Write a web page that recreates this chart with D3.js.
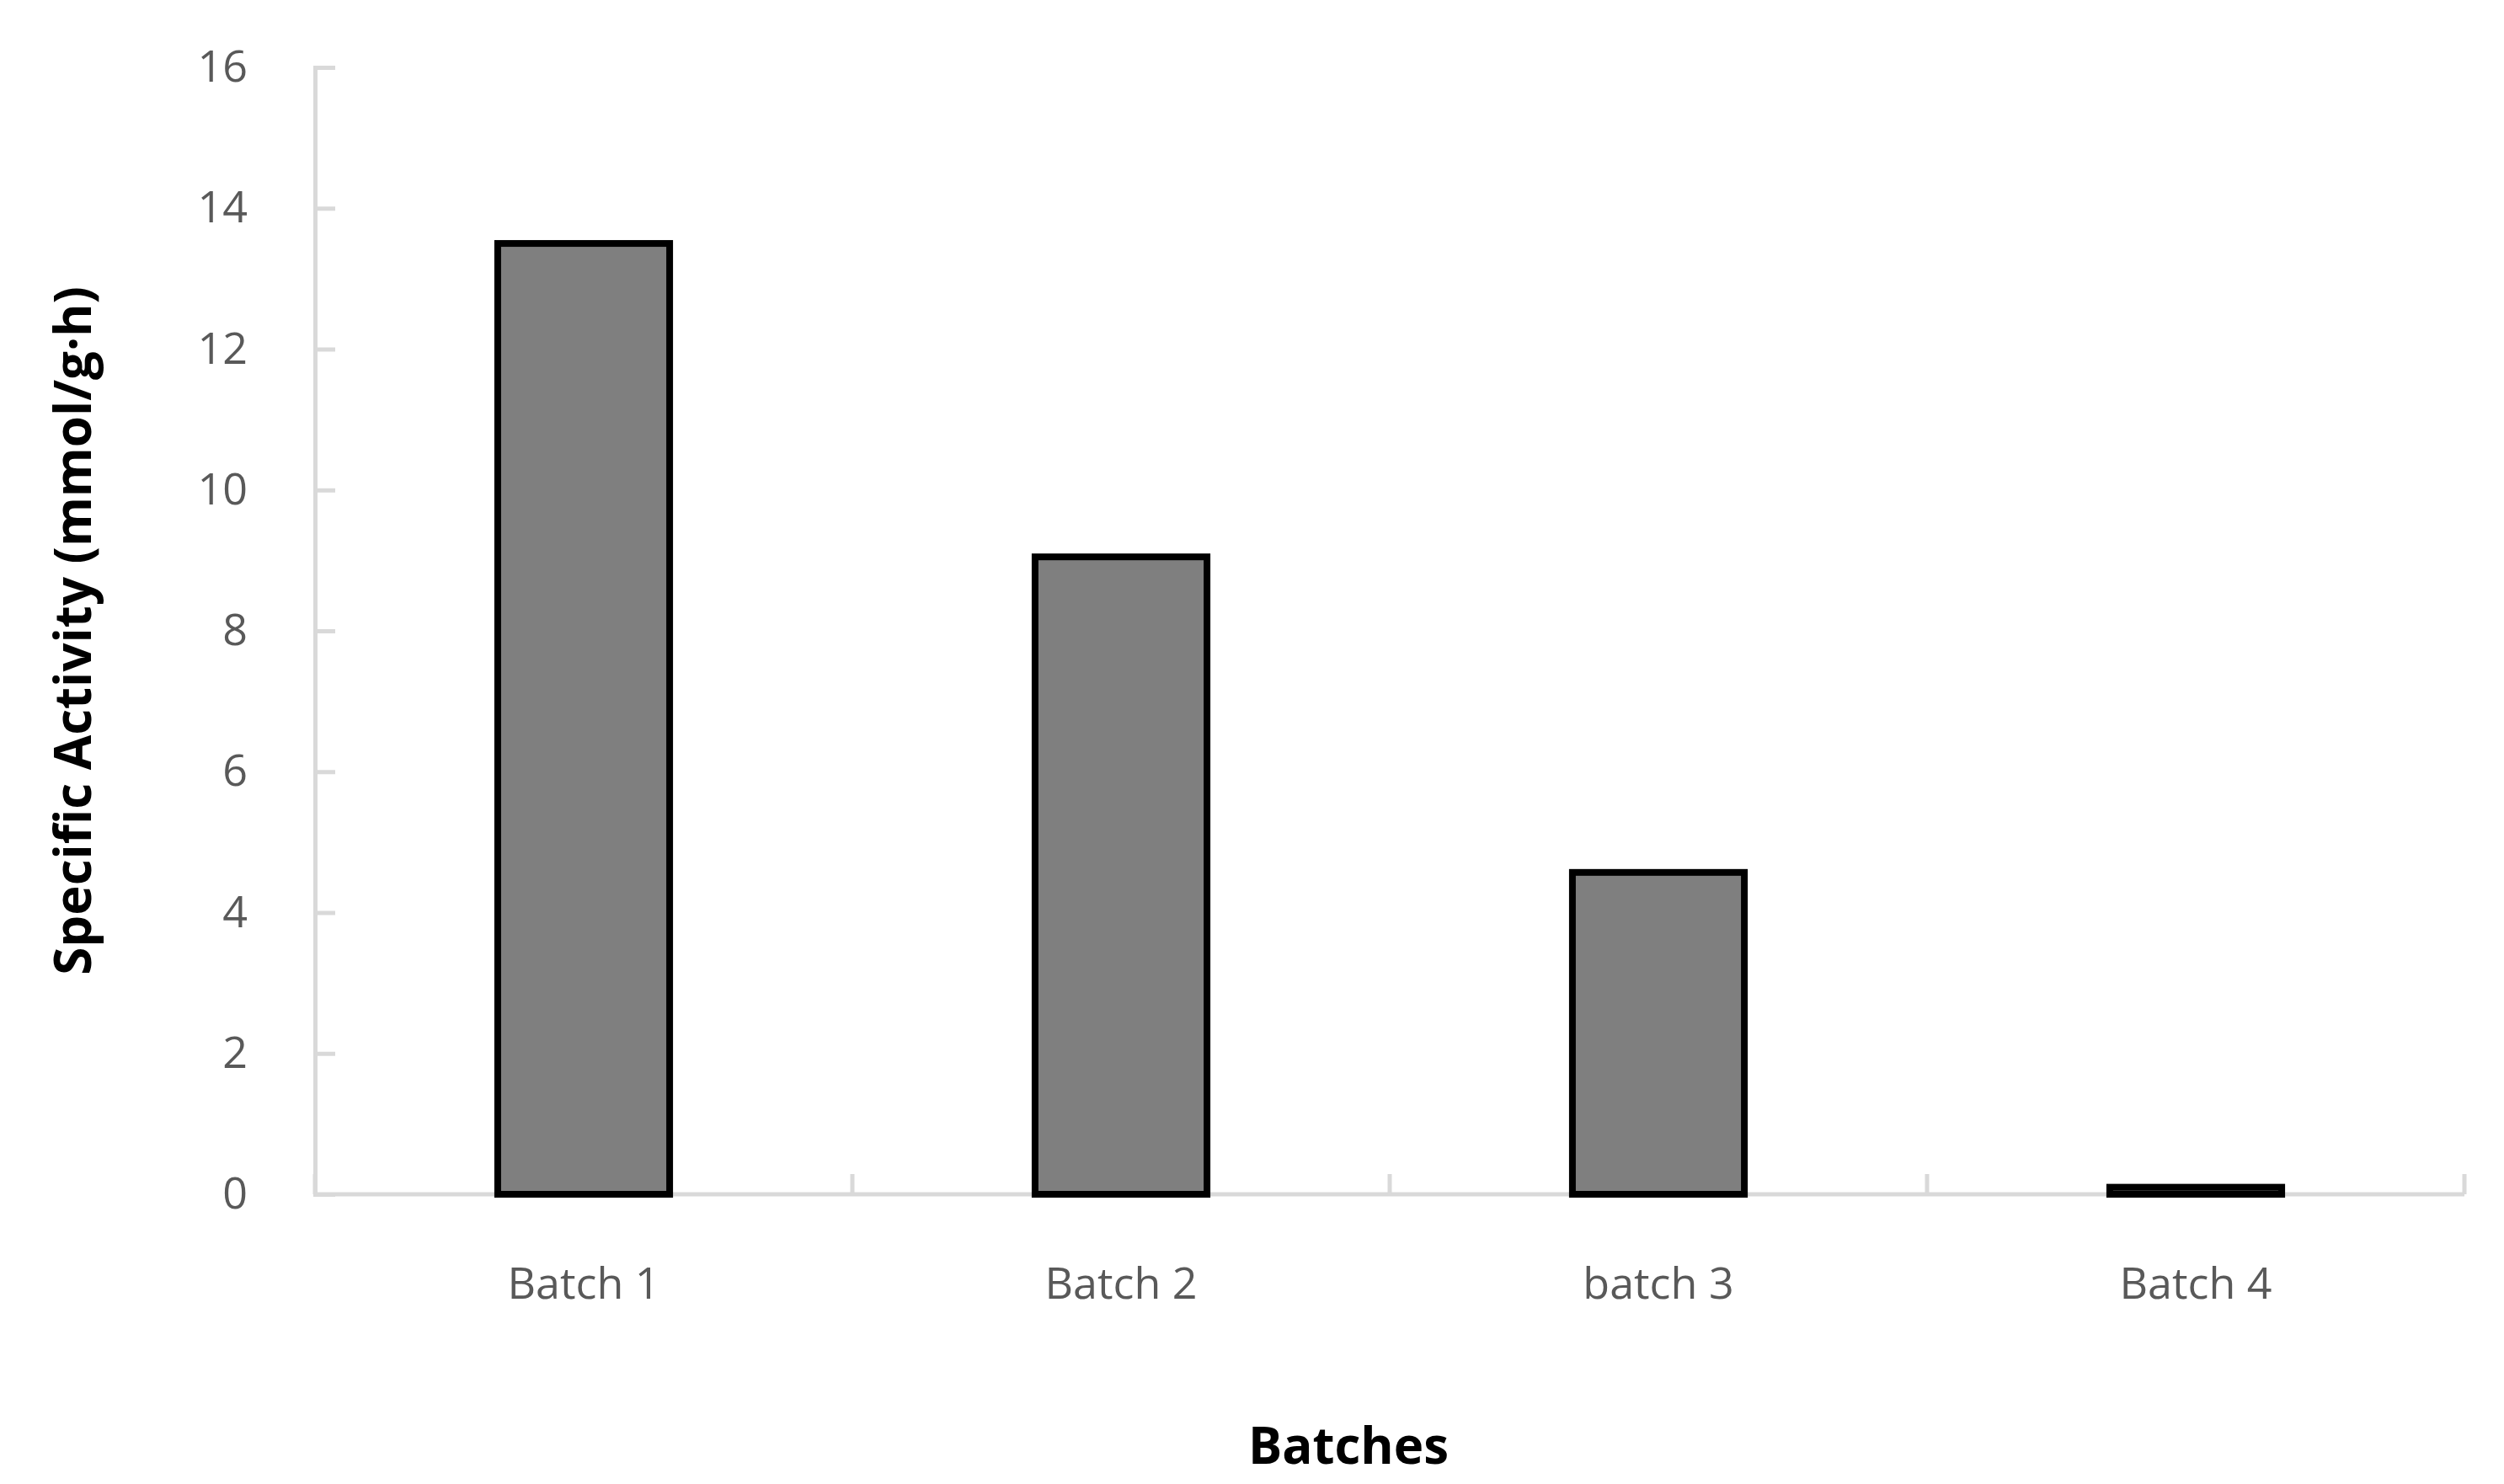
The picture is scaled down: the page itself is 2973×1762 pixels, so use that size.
<!DOCTYPE html>
<html><head><meta charset="utf-8">
<script src="https://cdn.jsdelivr.net/npm/d3@7"></script>
<style>body{margin:0;background:#fff}</style>
</head><body><div id="chart-area"></div>
<script>
var categories = ["Batch 1", "Batch 2", "batch 3", "Batch 4"];
var values = [13.5, 9.05, 4.57, 0.1];
var yTicks = [0, 2, 4, 6, 8, 10, 12, 14, 16];

var W = 2973, H = 1762;
var margin = { left: 374, right: 47, top: 80, bottom: 344 };
var width = W - margin.left - margin.right;
var height = H - margin.top - margin.bottom;
var font = "'Open Sans', 'Liberation Sans', sans-serif";

var svg = d3.select("#chart-area").append("svg")
  .attr("width", W).attr("height", H);
var g = svg.append("g")
  .attr("transform", "translate(" + margin.left + "," + margin.top + ")");

var x = d3.scaleBand().domain(categories).range([0, width]).paddingInner(0.68).paddingOuter(0.34);
var xb = d3.scaleBand().domain(categories).range([0, width]);
var y = d3.scaleLinear().domain([0, 16]).range([height, 0]);

// y axis
var yAxis = g.append("g")
  .call(d3.axisLeft(y).tickValues(yTicks).tickSize(-24).tickPadding(80));
yAxis.select(".domain").attr("stroke", "#d9d9d9").attr("stroke-width", 5);
yAxis.selectAll(".tick line").attr("stroke", "#d9d9d9").attr("stroke-width", 5);
yAxis.selectAll("text").attr("fill", "#595959").attr("font-size", 52).attr("font-family", font);

// x axis
var xAxis = g.append("g").attr("transform", "translate(0," + height + ")");
xAxis.append("line").attr("x1", 0).attr("x2", width).attr("stroke", "#d9d9d9").attr("stroke-width", 5);
xAxis.selectAll(".xt").data(categories.concat(["end"])).enter().append("line")
  .attr("x1", (d, i) => i * xb.bandwidth()).attr("x2", (d, i) => i * xb.bandwidth())
  .attr("y1", 0).attr("y2", -24).attr("stroke", "#d9d9d9").attr("stroke-width", 5);
xAxis.selectAll(".xl").data(categories).enter().append("text")
  .attr("x", d => xb(d) + xb.bandwidth() / 2).attr("y", 124)
  .attr("text-anchor", "middle").attr("fill", "#595959")
  .attr("font-size", 52).attr("font-family", font).text(d => d);

// bars
g.selectAll(".bar").data(values).enter().append("rect")
  .attr("x", (d, i) => x(categories[i]))
  .attr("y", d => y(d))
  .attr("width", x.bandwidth())
  .attr("height", d => y(0) - y(d))
  .attr("fill", "#7f7f7f").attr("stroke", "#000").attr("stroke-width", 8);

// titles
svg.append("text").attr("x", 1601).attr("y", 1738).attr("text-anchor", "middle")
  .attr("font-size", 60).attr("font-weight", "bold").attr("font-family", font).text("Batches");
svg.append("text").attr("transform", "translate(108," + (margin.top + height / 2) + ") rotate(-90)")
  .attr("text-anchor", "middle").attr("font-size", 60).attr("font-weight", "bold")
  .attr("font-family", font).text("Specific Activity (mmol/g·h)");
</script></body></html>
